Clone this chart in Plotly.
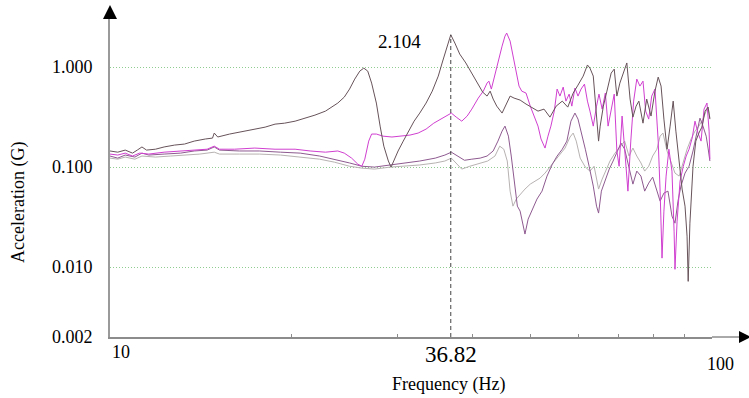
import math
import plotly.graph_objects as go

# ---------------- data ----------------
a_freq = [10.0, 10.3, 10.6, 10.9, 11.1, 11.3, 11.5, 11.9, 12.3, 12.8,
          13.3, 13.8, 14.4, 14.8, 14.9, 15.1, 15.8, 16.8, 17.4, 18.1,
          18.8, 19.5, 20.3, 21.1, 21.9, 22.8, 23.4, 23.9, 24.5, 25.0,
          25.5, 26.0, 26.4, 26.8, 27.2, 27.7, 28.1, 28.5, 29.0, 29.3,
          29.6, 30.1, 30.7, 31.3, 32.0, 32.7, 33.5, 34.3, 35.1, 35.7,
          36.3, 36.82, 37.4, 38.1, 39.0, 39.9, 40.9, 41.6, 42.3, 42.8,
          43.3, 43.9, 44.8, 45.5, 46.2, 46.9, 48.0, 49.1, 50.2, 51.4,
          52.6, 53.8, 55.1, 56.4, 57.6, 58.8, 59.9, 61.1, 62.1, 62.7,
          63.5, 64.3, 64.8, 65.2, 66.0, 66.9, 68.0, 68.8, 69.5, 70.3,
          71.4, 72.2, 73.1, 73.9, 74.8, 75.6, 76.8, 77.9, 79.2, 80.4,
          81.4, 82.3, 83.2, 84.2, 85.2, 86.2, 87.1, 88.2, 89.2, 90.2,
          90.9, 91.3, 91.9, 93.0, 94.0, 95.1, 96.2, 97.4, 98.5, 99.2]
a_acc = [0.145, 0.141, 0.148, 0.138, 0.148, 0.159, 0.148, 0.151, 0.159, 0.166,
         0.170, 0.182, 0.191, 0.195, 0.219, 0.200, 0.214, 0.229, 0.240, 0.251,
         0.269, 0.275, 0.288, 0.309, 0.331, 0.363, 0.398, 0.437, 0.501, 0.603,
         0.759, 0.912, 0.977, 0.912, 0.692, 0.437, 0.257, 0.162, 0.115, 0.100,
         0.115, 0.145, 0.182, 0.229, 0.288, 0.347, 0.437, 0.575, 0.813, 1.15,
         1.62, 2.104, 1.74, 1.35, 1.10, 0.871, 0.661, 0.562, 0.513, 0.575,
         0.479, 0.407, 0.347, 0.417, 0.513, 0.490, 0.468, 0.427, 0.398, 0.363,
         0.380, 0.316, 0.407, 0.457, 0.398, 0.550, 0.661, 0.813, 1.05, 0.977,
         0.813, 0.288, 0.182, 0.257, 0.407, 0.575, 0.871, 0.955, 0.513, 0.692,
         0.912, 1.10, 0.479, 0.316, 0.407, 0.457, 0.275, 0.479, 0.324, 0.575,
         0.794, 0.646, 0.302, 0.151, 0.257, 0.457, 0.229, 0.115, 0.0603, 0.0407,
         0.0204, 0.0072, 0.0275, 0.102, 0.182, 0.219, 0.251, 0.363, 0.398, 0.302]

b_freq = [10.0, 10.3, 10.6, 10.9, 11.2, 11.6, 12.3, 13.1, 13.8, 14.5,
          14.9, 15.2, 16.1, 17.4, 18.8, 20.3, 21.5, 22.8, 23.9, 24.5,
          25.2, 25.8, 26.2, 26.5, 26.9, 27.2, 27.7, 28.4, 29.4, 30.3,
          31.5, 32.5, 33.5, 34.5, 35.6, 36.4, 36.9, 37.6, 38.4, 39.2,
          39.9, 40.9, 41.7, 42.3, 42.6, 43.0, 43.5, 44.1, 44.8, 45.3,
          45.6, 46.2, 46.7, 47.3, 47.8, 48.3, 49.1, 49.9, 50.6, 51.4,
          52.0, 52.8, 53.4, 54.0, 54.7, 55.3, 55.9, 56.6, 57.2, 57.9,
          58.5, 59.2, 59.9, 60.6, 61.4, 62.1, 62.7, 63.5, 64.3, 64.9,
          65.7, 66.5, 67.2, 68.0, 68.8, 69.5, 70.1, 70.9, 71.6, 72.5,
          73.3, 74.1, 75.0, 75.9, 76.8, 77.6, 78.5, 79.4, 80.4, 81.4,
          82.0, 82.6, 83.2, 83.9, 84.8, 85.8, 86.5, 86.8, 87.5, 88.5,
          89.6, 90.6, 91.6, 92.7, 93.7, 94.8, 95.9, 97.0, 98.1, 98.9,
          99.2]
b_acc = [0.135, 0.132, 0.138, 0.129, 0.138, 0.135, 0.141, 0.145, 0.148, 0.151,
         0.162, 0.151, 0.151, 0.155, 0.151, 0.151, 0.145, 0.141, 0.145, 0.138,
         0.123, 0.107, 0.102, 0.120, 0.182, 0.214, 0.214, 0.204, 0.200, 0.204,
         0.209, 0.219, 0.240, 0.275, 0.309, 0.331, 0.347, 0.316, 0.288, 0.324,
         0.380, 0.490, 0.575, 0.692, 0.724, 0.603, 0.813, 1.15, 1.62, 2.04,
         2.19, 1.82, 1.29, 0.871, 0.646, 0.575, 0.550, 0.407, 0.324, 0.257,
         0.191, 0.155, 0.204, 0.257, 0.363, 0.603, 0.513, 0.631, 0.457, 0.537,
         0.407, 0.617, 0.513, 0.603, 0.676, 0.457, 0.363, 0.257, 0.407, 0.537,
         0.380, 0.550, 0.257, 0.380, 0.537, 0.145, 0.102, 0.324, 0.145, 0.0575,
         0.182, 0.457, 0.759, 0.646, 0.724, 0.363, 0.302, 0.513, 0.603, 0.182,
         0.0575, 0.0123, 0.0363, 0.0813, 0.151, 0.0912, 0.0229, 0.0095, 0.0288, 0.0724,
         0.102, 0.129, 0.151, 0.195, 0.288, 0.219, 0.182, 0.380, 0.437, 0.229,
         0.120]

c_freq = [10.0, 10.3, 10.6, 11.0, 11.3, 11.6, 12.3, 13.1, 13.8, 14.5,
          14.9, 15.2, 16.4, 17.7, 19.2, 20.7, 22.3, 23.6, 25.0, 26.2,
          27.5, 29.2, 30.9, 32.7, 34.7, 36.0, 36.9, 37.9, 38.8, 39.9,
          41.2, 42.3, 43.3, 44.1, 44.8, 45.3, 45.9, 46.4, 47.0, 47.5,
          48.0, 48.5, 48.9, 49.5, 50.2, 51.2, 52.2, 53.2, 54.3, 55.3,
          56.4, 57.4, 58.3, 59.2, 59.9, 60.6, 61.6, 62.5, 63.5, 64.3,
          64.8, 65.5, 66.5, 67.5, 68.5, 69.5, 70.6, 71.6, 72.8, 73.9,
          75.0, 76.2, 77.3, 78.5, 79.7, 81.0, 82.0, 83.2, 84.5, 85.8,
          86.8, 87.8, 88.8, 90.2, 91.6, 93.0, 94.4, 95.5, 96.6, 97.8,
          98.5, 99.2]
c_acc = [0.129, 0.123, 0.132, 0.126, 0.138, 0.132, 0.135, 0.138, 0.145, 0.148,
         0.159, 0.148, 0.145, 0.145, 0.141, 0.138, 0.129, 0.120, 0.110, 0.102,
         0.100, 0.105, 0.110, 0.115, 0.123, 0.132, 0.141, 0.129, 0.117, 0.120,
         0.123, 0.129, 0.145, 0.182, 0.229, 0.257, 0.204, 0.129, 0.0646, 0.0407,
         0.0363, 0.0257, 0.0214, 0.0302, 0.0363, 0.0479, 0.0575, 0.0813, 0.107, 0.129,
         0.151, 0.182, 0.288, 0.347, 0.302, 0.229, 0.151, 0.102, 0.0646, 0.0407,
         0.0347, 0.0575, 0.0759, 0.0955, 0.115, 0.138, 0.174, 0.151, 0.102, 0.0676,
         0.0912, 0.0813, 0.0575, 0.0692, 0.0794, 0.0575, 0.0457, 0.0550, 0.0575, 0.0324,
         0.0275, 0.0457, 0.0646, 0.0871, 0.102, 0.145, 0.229, 0.309, 0.257, 0.204,
         0.155, 0.115]

d_freq = [10.0, 10.3, 10.6, 11.0, 11.3, 11.9, 12.6, 13.3, 14.1, 14.9,
          15.2, 16.4, 17.7, 19.2, 20.7, 22.3, 23.6, 25.0, 26.2, 27.5,
          29.2, 30.9, 32.7, 34.7, 36.0, 36.9, 37.6, 38.4, 39.6, 41.2,
          42.4, 43.6, 44.4, 45.1, 45.7, 46.2, 46.7, 47.3, 48.0, 48.9,
          49.9, 50.8, 51.8, 52.8, 53.8, 54.9, 55.9, 57.0, 58.1, 58.8,
          59.5, 60.4, 61.6, 62.7, 63.7, 64.8, 65.7, 66.7, 67.7, 69.0,
          70.3, 71.6, 72.8, 73.9, 75.0, 76.2, 77.3, 78.5, 79.7, 81.0,
          82.0, 82.9, 84.2, 85.5, 86.8, 88.2, 89.6, 90.9, 92.3, 93.7,
          95.1, 96.6, 97.8, 98.5, 99.2]
d_acc = [0.123, 0.120, 0.126, 0.120, 0.129, 0.126, 0.129, 0.132, 0.135, 0.141,
         0.135, 0.135, 0.135, 0.132, 0.126, 0.120, 0.112, 0.102, 0.0977, 0.0955,
         0.100, 0.102, 0.105, 0.110, 0.115, 0.123, 0.110, 0.0955, 0.102, 0.110,
         0.115, 0.129, 0.162, 0.151, 0.115, 0.0575, 0.0407, 0.0479, 0.0537, 0.0603,
         0.0676, 0.0724, 0.0776, 0.0871, 0.100, 0.115, 0.135, 0.155, 0.200, 0.219,
         0.182, 0.123, 0.100, 0.0912, 0.102, 0.0603, 0.0759, 0.0955, 0.115, 0.138,
         0.159, 0.182, 0.129, 0.155, 0.129, 0.110, 0.0912, 0.102, 0.129, 0.151,
         0.204, 0.219, 0.145, 0.110, 0.0871, 0.0813, 0.115, 0.151, 0.191, 0.229,
         0.257, 0.302, 0.363, 0.398, 0.309]

peak_freq = 36.82
peak_acc = 2.104
y_tick_vals = [0.002, 0.01, 0.1, 1.0]
y_tick_text = ["0.002", "0.010", "0.100", "1.000"]
x_minor_ticks = [20, 30, 40, 50, 60, 70, 80, 90]
x_labels = {"10": 10, "36.82": 36.82, "100": 100}

FONT = "Liberation Serif"

fig = go.Figure()
series = [
    (d_freq, d_acc, "#b8b2b2"),
    (c_freq, c_acc, "#8e5a90"),
    (b_freq, b_acc, "#d03fd0"),
    (a_freq, a_acc, "#67535a"),
]
for fx, fy, col in series:
    fig.add_trace(go.Scatter(x=fx, y=fy, mode="lines",
                             line=dict(color=col, width=1), showlegend=False,
                             hoverinfo="skip"))

# dashed marker line at the peak
fig.add_trace(go.Scatter(x=[peak_freq, peak_freq], y=[y_tick_vals[0], peak_acc],
                         mode="lines", line=dict(color="#444444", width=1, dash="4px,3px"),
                         showlegend=False, hoverinfo="skip"))

W, H = 749, 398
ML, MR, MT, MB = 110, 37, 18, 61
pw, ph = W - ML - MR, H - MT - MB

def px(xp):
    return (xp - ML) / pw

def py(yp):
    return (H - MB - yp) / ph

ylo = math.log10(y_tick_vals[0])
fig.update_layout(
    width=W, height=H,
    margin=dict(l=ML, r=MR, t=MT, b=MB, pad=0),
    paper_bgcolor="white", plot_bgcolor="white",
    font=dict(family=FONT, color="black"),
    xaxis=dict(type="log", range=[1, 2], showgrid=False, zeroline=False,
               showline=True, linecolor="#8c8c8c", linewidth=2,
               tickvals=x_minor_ticks, ticks="inside", ticklen=3,
               tickcolor="#8c8c8c", showticklabels=False),
    yaxis=dict(type="log", range=[ylo, ylo + ph / 100.0],
               tickvals=y_tick_vals, ticktext=y_tick_text,
               showgrid=True, gridcolor="#8fcc8f", griddash="1px,2px", gridwidth=1,
               zeroline=False, showline=True, linecolor="#9a9a9a", linewidth=2,
               ticks="", ticklabelstandoff=12,
               tickfont=dict(family=FONT, size=18, color="black")),
)

# axis extensions and arrowheads
fig.add_shape(type="line", xref="paper", yref="paper", x0=1, x1=px(740), y0=0, y1=0,
              line=dict(color="#555555", width=1))
fig.add_shape(type="path", xref="paper", yref="paper",
              path=f"M {px(739)} {py(331)} L {px(751)} {py(337)} L {px(739)} {py(343)} Z",
              fillcolor="black", line=dict(color="black", width=0))
fig.add_shape(type="path", xref="paper", yref="paper",
              path=f"M {px(103)} {py(19)} L {px(110)} {py(5)} L {px(117)} {py(19)} Z",
              fillcolor="black", line=dict(color="black", width=0))

# x tick labels
fig.add_annotation(x=math.log10(x_labels["10"]), y=0, xref="x", yref="paper",
                   text="10", showarrow=False, xanchor="left", yanchor="top",
                   yshift=-3, font=dict(family=FONT, size=18))
fig.add_annotation(x=math.log10(x_labels["36.82"]), y=0, xref="x", yref="paper",
                   text="36.82", showarrow=False, xanchor="center", yanchor="top",
                   yshift=-3, font=dict(family=FONT, size=23))
fig.add_annotation(x=math.log10(x_labels["100"]), y=0, xref="x", yref="paper",
                   text="100", showarrow=False, xanchor="center", yanchor="top",
                   xshift=8, yshift=-15, font=dict(family=FONT, size=18))

# peak value label
fig.add_annotation(x=math.log10(peak_freq), y=math.log10(peak_acc), xref="x", yref="y",
                   text=f"{peak_acc:.3f}", showarrow=False, xanchor="right",
                   yanchor="middle", xshift=-28, yshift=-7,
                   font=dict(family=FONT, size=19))

# axis titles
fig.add_annotation(x=px(448), y=py(385), xref="paper", yref="paper",
                   text="Frequency (Hz)", showarrow=False, xanchor="center",
                   yanchor="middle", font=dict(family=FONT, size=18))
fig.add_annotation(x=px(18), y=py(203), xref="paper", yref="paper",
                   text="Acceleration (G)", showarrow=False, textangle=-90,
                   xanchor="center", yanchor="middle", font=dict(family=FONT, size=18))

fig.write_html("out.html", config={"displayModeBar": False},
               post_script="document.body.style.margin='0';document.body.style.overflow='hidden';")
